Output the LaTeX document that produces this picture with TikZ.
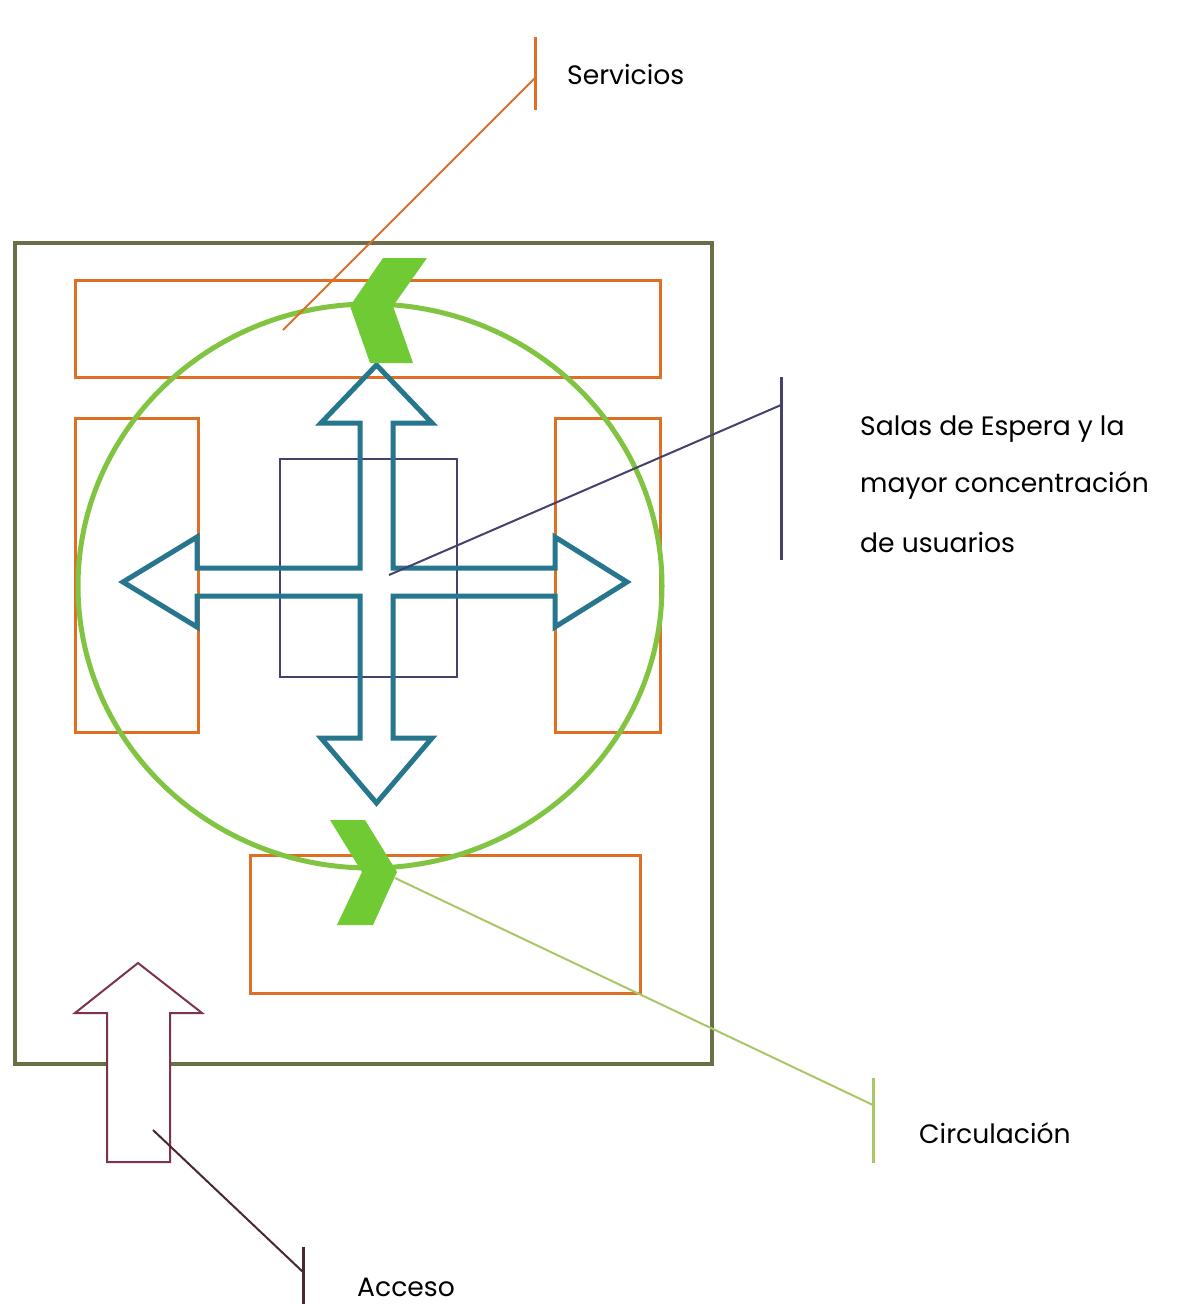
\documentclass[tikz,border=0pt]{standalone}
\usepackage{fontspec}
\setmainfont{Poppins}
\begin{document}
\begin{tikzpicture}[x=1pt,y=-1pt,
  frame/.style={draw=olivec,line width=3.5pt},
  zone/.style={draw=orangec,line width=3pt},
  core/.style={draw=navyc,line width=2.5pt},
  crossarrow/.style={draw=tealc,line width=5pt,line join=miter},
  ring/.style={draw=ringc,line width=5pt},
  chevron/.style={fill=chevc,draw=none},
  leader/.style={line width=2pt},
  bar/.style={line width=3pt},
  label/.style={anchor=base west,inner sep=0pt,font=\fontsize{26.6}{30}\selectfont,text=black}]
\definecolor{olivec}{RGB}{108,110,72}
\definecolor{orangec}{RGB}{222,112,38}
\definecolor{navyc}{RGB}{68,66,108}
\definecolor{tealc}{RGB}{38,118,142}
\definecolor{ringc}{RGB}{128,196,66}
\definecolor{chevc}{RGB}{112,202,52}
\definecolor{maroonc}{RGB}{124,52,74}
\definecolor{accline}{RGB}{72,40,54}
\definecolor{circline}{RGB}{168,200,104}
\useasboundingbox (0,0) rectangle (1183,1304);
\fill[white] (0,0) rectangle (1183,1304);
% outer frame
\draw[frame] (15,243) rectangle (712,1064);
% service zones
\draw[zone] (75,280) rectangle (660,377);
\draw[zone] (75,418) rectangle (198,732);
\draw[zone] (555,418) rectangle (660,732);
\draw[zone] (250,855) rectangle (640,993);
% central square
\draw[core] (280,459) rectangle (457,677);
% cross arrow
\draw[crossarrow] (376.5,365) -- (432,423) -- (393,423) -- (393,568) -- (555,568) -- (555,537)
  -- (627,582) -- (555,627) -- (555,596) -- (393,596) -- (393,738) -- (432,738) -- (376.5,803)
  -- (321,738) -- (360,738) -- (360,596) -- (197,596) -- (197,627) -- (123,582) -- (197,537)
  -- (197,568) -- (360,568) -- (360,423) -- (321,423) -- cycle;
% circulation ring
\draw[ring] (370,586) ellipse [x radius=292, y radius=282];
\fill[chevron] (383,258) -- (427,258) -- (393,306) -- (413,363) -- (370,363) -- (350,306) -- cycle;
\fill[chevron] (330,820) -- (365,820) -- (397,872) -- (373,925) -- (337,925) -- (362,872) -- cycle;
% access arrow
\draw[draw=maroonc,fill=white,line width=2pt] (138,963) -- (202,1013) -- (170,1013) -- (170,1162)
  -- (107,1162) -- (107,1013) -- (75,1013) -- cycle;
% coordinates
\coordinate (servP) at (283,330);
\coordinate (servE) at (535,78);
\coordinate (servT) at (535,37);
\coordinate (servB) at (535,110);
\coordinate (salaP) at (389,575);
\coordinate (salaE) at (781,405);
\coordinate (salaT) at (781,377);
\coordinate (salaB) at (781,560);
\coordinate (circP) at (395,878);
\coordinate (circE) at (873,1105);
\coordinate (circT) at (873,1078);
\coordinate (circB) at (873,1163);
\coordinate (accP) at (153,1130);
\coordinate (accE) at (303,1272);
\coordinate (accT) at (303,1247);
\coordinate (accB) at (303,1304);
% leaders
\draw[leader,orangec] (servP) -- (servE);
\draw[bar,orangec] (servT) -- (servB);
\draw[leader,navyc] (salaP) -- (salaE);
\draw[bar,navyc] (salaT) -- (salaB);
\draw[leader,circline] (circP) -- (circE);
\draw[bar,circline] (circT) -- (circB);
\draw[leader,accline] (accP) -- (accE);
\draw[bar,accline] (accT) -- (accB);
% labels
\node[label] (serv) at (567,84) {Servicios};
\node[label] (sala1) at (860,435) {Salas de Espera y la};
\node[label] (sala2) at (860,492) {mayor concentración};
\node[label] (sala3) at (860,552) {de usuarios};
\node[label] (circ) at (919,1143) {Circulación};
\node[label] (acc) at (357,1296) {Acceso};
\end{tikzpicture}
\end{document}
